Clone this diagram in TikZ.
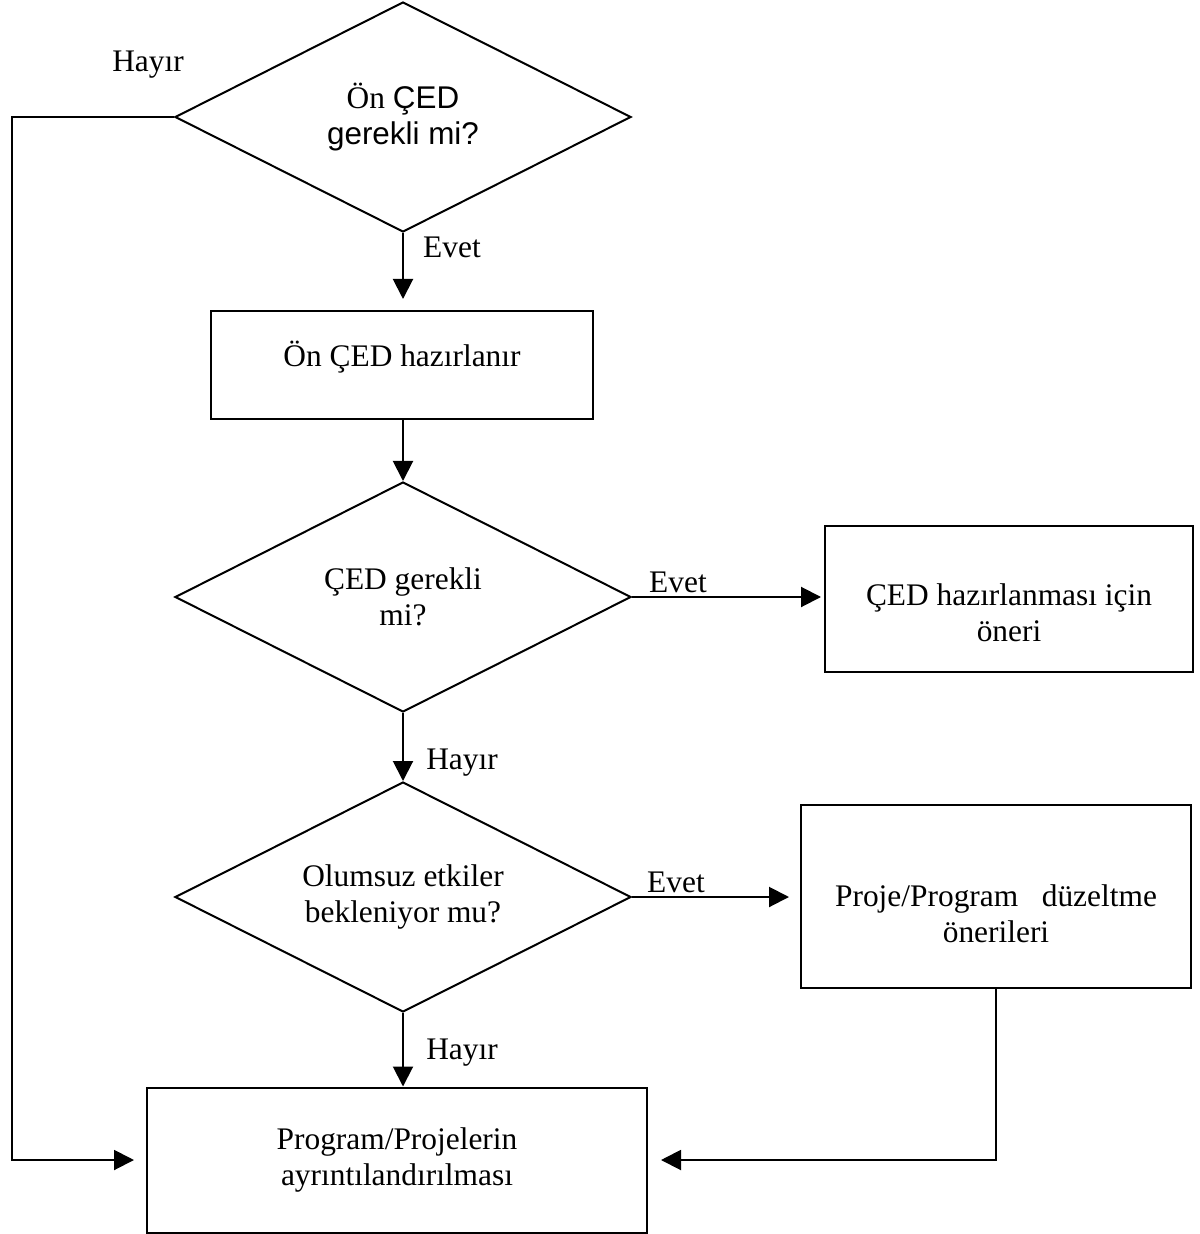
\documentclass[tikz,border=0pt]{standalone}
\usepackage{fontspec}
\setmainfont{Liberation Serif}
\newfontfamily\arial{Liberation Sans}
\usetikzlibrary{arrows.meta,shapes.geometric}

\begin{document}
\begin{tikzpicture}[x=0.5pt,y=-0.5pt,line width=1pt,>={Triangle[length=10pt,width=10pt]},
  font=\fontsize{15.7}{18}\selectfont,
  karar/.style={draw,diamond,aspect=2,inner sep=0pt,minimum width=228pt,minimum height=115pt,align=center},
  kutu/.style={draw,rectangle,align=center}]
  \useasboundingbox (0,0) rectangle (1199,1234);
  % karar kutulari
  \node[karar] (oncedmi) at (403,117) {Ön {\arial ÇED}\\{\arial gerekli mi?}};
  \node[karar] (cedmi) at (403,597) {ÇED gerekli\\mi?};
  \node[karar] (olumsuz) at (403,897) {Olumsuz etkiler\\bekleniyor mu?};
  % islem kutulari
  \node[kutu,minimum width=191pt,minimum height=54pt] (oncedhaz) at (402,365) {Ön ÇED hazırlanır\\[-7pt] \mbox{}};
  \node[kutu,minimum width=184pt,minimum height=73pt] (cedoneri) at (1009,599) {\mbox{}\\[7pt]ÇED hazırlanması için\\öneri};
  \node[kutu,minimum width=195pt,minimum height=91.5pt] (duzeltme) at (996,896) {\mbox{}\\[11pt]Proje/Program \ \ düzeltme\\önerileri};
  \node[kutu,minimum width=250pt,minimum height=72.5pt] (ayrinti) at (397,1160) {Program/Projelerin\\ayrıntılandırılması};
  \coordinate (solkose) at (12,117);
  % oklar
  \draw[->,shorten >=6pt] (oncedmi.west) -- (solkose) |- (ayrinti.west);
  \draw[->,shorten >=5.5pt] (oncedmi.south) -- (oncedmi.south |- oncedhaz.north);
  \draw[->] (oncedmi.south |- oncedhaz.south) -- (cedmi.north);
  \draw[->,shorten >=1.5pt] (cedmi.east) -- (cedmi.east -| cedoneri.west);
  \draw[->] (cedmi.south) -- (olumsuz.north);
  \draw[->,shorten >=5.5pt] (olumsuz.east) -- (olumsuz.east -| duzeltme.west);
  \draw[->] (olumsuz.south) -- (olumsuz.south |- ayrinti.north);
  \draw[->,shorten >=6.5pt] (duzeltme.south) |- (ayrinti.east);
  % etiketler
  \node (hayir1) at (148,65) {Hayır};
  \node (evet1) at (452,247) {Evet};
  \node (evet2) at (678,582) {Evet};
  \node (hayir2) at (462,763) {Hayır};
  \node (evet3) at (676,882) {Evet};
  \node (hayir3) at (462,1053) {Hayır};
\end{tikzpicture}
\end{document}
